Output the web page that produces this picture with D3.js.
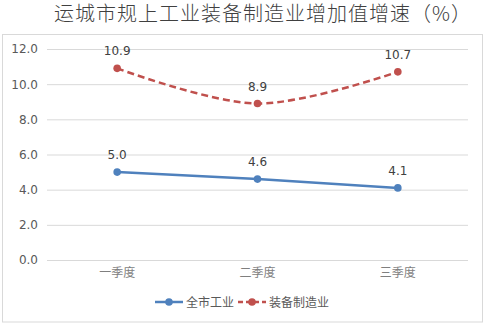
<!DOCTYPE html>
<html>
<head>
<meta charset="utf-8">
<script src="https://cdn.jsdelivr.net/npm/d3@7"></script>
<style>
  body { margin: 0; background: #fff; }
  text { font-family: "DejaVu Sans", "Noto Sans CJK SC", sans-serif; }
</style>
</head>
<body>
<svg width="487" height="327"></svg>
<script>
const categories = ['一季度', '二季度', '三季度'];
const allIndustry = [5.0, 4.6, 4.1];
const equipment = [10.9, 8.9, 10.7];
const yTicks = [0, 2, 4, 6, 8, 10, 12];
const seriesNames = ['全市工业', '装备制造业'];

const svg = d3.select('svg');

const title = '运城市规上工业装备制造业增加值增速（%）';

const margin = { top: 49, right: 19, bottom: 67, left: 47 };
const width = +svg.attr('width');
const height = +svg.attr('height');
const innerWidth = width - margin.left - margin.right;
const innerHeight = height - margin.top - margin.bottom;

svg.append('rect')
  .attr('x', 2.5).attr('y', 34.5)
  .attr('width', 480).attr('height', 287.5)
  .attr('fill', 'none')
  .attr('stroke', '#d9d9d9');

svg.append('text')
  .attr('x', 263)
  .attr('y', 21)
  .attr('text-anchor', 'middle')
  .attr('font-size', 20)
  .attr('letter-spacing', 1)
  .attr('fill', '#404040')
  .style('font-family', '"Noto Sans CJK SC", sans-serif')
  .style('font-weight', 300)
  .text(title);

const g = svg.append('g')
  .attr('transform', `translate(${margin.left},${margin.top})`);

const xScale = d3.scaleBand()
  .domain(categories)
  .range([0, innerWidth]);

const yScale = d3.scaleLinear()
  .domain([0, 12])
  .range([innerHeight, 0]);

const yAxis = d3.axisLeft(yScale)
  .tickValues(yTicks)
  .tickFormat(d3.format('.1f'))
  .tickSize(-innerWidth)
  .tickPadding(9);

const yAxisG = g.append('g').call(yAxis);
yAxisG.select('.domain').remove();
yAxisG.selectAll('line').attr('stroke', '#d9d9d9');
yAxisG.selectAll('text')
  .attr('font-size', 12)
  .attr('fill', '#595959');

const xAxis = d3.axisBottom(xScale).tickSize(0).tickPadding(8);
const xAxisG = g.append('g')
  .attr('transform', `translate(0,${innerHeight})`)
  .call(xAxis);
xAxisG.select('.domain').remove();
xAxisG.selectAll('text')
  .attr('font-size', 12)
  .attr('fill', '#7f7f7f');

const xPos = (d, i) => xScale(categories[i]) + xScale.bandwidth() / 2;

const series = [
  { name: seriesNames[0], values: allIndustry, color: '#4f81bd', dash: null, curve: d3.curveLinear },
  { name: seriesNames[1], values: equipment, color: '#c0504d', dash: '7,4', curve: d3.curveCatmullRom.alpha(0.5) }
];

series.forEach(s => {
  const line = d3.line()
    .x(xPos)
    .y(d => yScale(d))
    .curve(s.curve);

  g.append('path')
    .datum(s.values)
    .attr('d', line)
    .attr('fill', 'none')
    .attr('stroke', s.color)
    .attr('stroke-width', 2.5)
    .attr('stroke-dasharray', s.dash);

  g.selectAll(null).data(s.values)
    .enter().append('circle')
    .attr('cx', xPos)
    .attr('cy', d => yScale(d))
    .attr('r', 3.8)
    .attr('fill', s.color);

  g.selectAll(null).data(s.values)
    .enter().append('text')
    .attr('x', xPos)
    .attr('y', d => yScale(d) - 13)
    .attr('text-anchor', 'middle')
    .attr('font-size', 12)
    .attr('fill', '#404040')
    .text(d => d.toFixed(1));
});

// legend
const legend = svg.append('g').attr('transform', 'translate(155,302)');
let lx = 0;
series.forEach(s => {
  const item = legend.append('g').attr('transform', `translate(${lx},0)`);
  item.append('line')
    .attr('x1', 0).attr('x2', 28)
    .attr('stroke', s.color)
    .attr('stroke-width', 2.5)
    .attr('stroke-dasharray', s.dash ? '5,3' : null);
  item.append('circle')
    .attr('cx', 14).attr('r', 3.8)
    .attr('fill', s.color);
  const t = item.append('text')
    .attr('x', 31)
    .attr('y', 4.5)
    .attr('font-size', 12)
    .attr('fill', '#595959')
    .text(s.name);
  lx += 31 + t.node().getComputedTextLength() + 4;
});
</script>
</body>
</html>
